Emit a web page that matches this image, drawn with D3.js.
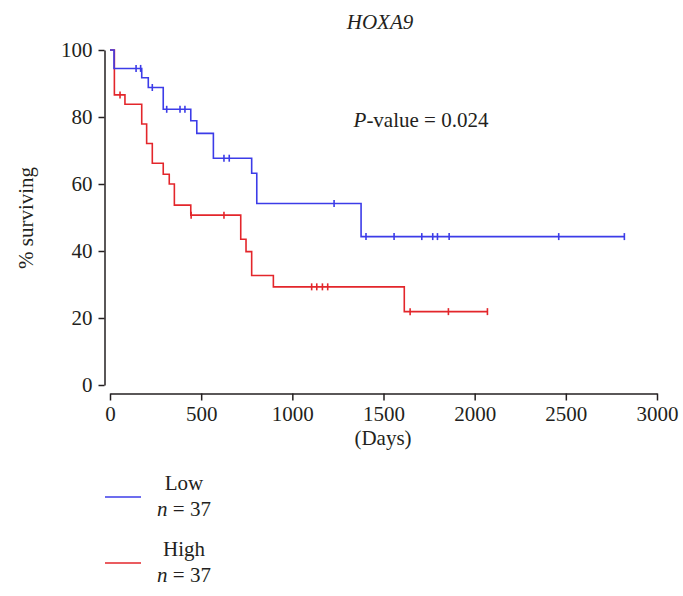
<!DOCTYPE html>
<html>
<head>
<meta charset="utf-8">
<script src="https://cdn.jsdelivr.net/npm/d3@7"></script>
<style>
  html, body { margin: 0; padding: 0; background: #fff; }
  svg { display: block; }
  text { font-family: "Liberation Serif", "DejaVu Serif", serif; fill: #231f20; }
</style>
</head>
<body>
<svg id="chart" width="683" height="596"></svg>
<script>
// ---- Data ----
const xTicks = [0, 500, 1000, 1500, 2000, 2500, 3000];
const yTicks = [0, 20, 40, 60, 80, 100];

const lowEventDays = [0, 22, 174, 210, 292, 443, 476, 567, 777, 805, 1377];
const lowSurvival  = [100, 94.5, 91.7, 88.8, 82.3, 78.9, 75.1, 67.7, 63.2, 54.2, 44.3];
const lowEndDay = 2821;
const lowCensorDays = [143, 168, 232, 311, 384, 411, 625, 654, 1229, 1404, 1558, 1710, 1770, 1796, 1860, 2461, 2821];

const highEventDays = [0, 24, 82, 174, 201, 232, 292, 325, 353, 443, 717, 746, 777, 896, 1614];
const highSurvival  = [100, 86.6, 83.8, 77.9, 72.1, 66.2, 62.9, 60.0, 53.7, 50.7, 43.5, 39.8, 32.7, 29.3, 21.9];
const highEndDay = 2070;
const highCensorDays = [55, 445, 625, 1106, 1134, 1165, 1194, 1646, 1856, 2070];

const groups = ["Low", "High"];
const groupN = [37, 37];
const colors = ["#3c3ce8", "#e3262b"];

// ---- Chart ----
const svg = d3.select("#chart");
const x = d3.scaleLinear().domain([0, 3000]).range([110, 657]);
const y = d3.scaleLinear().domain([0, 100]).range([385, 50]);

const axisColor = "#231f20";
const FS = 21;

// Y axis
const yAxisG = svg.append("g").attr("transform", "translate(104.5,0)")
  .call(d3.axisLeft(y).tickValues(yTicks).tickSize(6).tickSizeOuter(0).tickPadding(6));
// X axis
const xAxisG = svg.append("g").attr("transform", "translate(0,393.5)")
  .call(d3.axisBottom(x).tickValues(xTicks).tickSize(7).tickSizeOuter(0).tickPadding(6).tickFormat(d3.format("d")));
[yAxisG, xAxisG].forEach(g => {
  g.selectAll("path, line").attr("stroke", axisColor).attr("stroke-width", 1.5);
  g.selectAll("text").style("font-family", "Liberation Serif").style("font-size", FS + "px").attr("fill", axisColor);
});

// Axis titles
svg.append("text")
  .attr("transform", "translate(33,218) rotate(-90)")
  .attr("text-anchor", "middle")
  .style("font-size", FS + "px")
  .text("% surviving");
svg.append("text")
  .attr("x", 383).attr("y", 445)
  .attr("text-anchor", "middle")
  .style("font-size", FS + "px")
  .text("(Days)");

// Title
svg.append("text")
  .attr("x", 380).attr("y", 29)
  .attr("text-anchor", "middle")
  .style("font-size", FS + "px")
  .style("font-style", "italic")
  .text("HOXA9");

// P-value
const pt = svg.append("text")
  .attr("x", 421).attr("y", 127)
  .attr("text-anchor", "middle")
  .style("font-size", FS + "px");
pt.append("tspan").style("font-style", "italic").text("P");
pt.append("tspan").text("-value = 0.024");

// Curves
function stepPoints(days, surv, end) {
  const pts = days.map((d, i) => [d, surv[i]]);
  pts.push([end, surv[surv.length - 1]]);
  return pts;
}
function survAt(days, surv, t) {
  let v = surv[0];
  for (let i = 0; i < days.length; i++) if (days[i] <= t) v = surv[i];
  return v;
}
const line = d3.line().x(d => x(d[0])).y(d => y(d[1])).curve(d3.curveStepAfter);

const series = [
  { days: lowEventDays, surv: lowSurvival, end: lowEndDay, cens: lowCensorDays, color: colors[0] },
  { days: highEventDays, surv: highSurvival, end: highEndDay, cens: highCensorDays, color: colors[1] }
];

// draw High first, Low on top? draw in order low then high
series.slice().reverse().forEach(s => {
  svg.append("path")
    .datum(stepPoints(s.days, s.surv, s.end))
    .attr("d", line)
    .attr("fill", "none")
    .attr("stroke", s.color)
    .attr("stroke-width", 1.6);
  svg.append("g").selectAll("line")
    .data(s.cens)
    .join("line")
    .attr("x1", d => x(d)).attr("x2", d => x(d))
    .attr("y1", d => y(survAt(s.days, s.surv, d)) - 3.5)
    .attr("y2", d => y(survAt(s.days, s.surv, d)) + 3.5)
    .attr("stroke", s.color)
    .attr("stroke-width", 1.6);
});

// Legend
const legendY = [497, 563];
groups.forEach((g, i) => {
  const ly = legendY[i];
  svg.append("line")
    .attr("x1", 105).attr("x2", 141)
    .attr("y1", ly).attr("y2", ly)
    .attr("stroke", colors[i]).attr("stroke-width", 1.6);
  svg.append("text")
    .attr("x", 184).attr("y", ly - 7)
    .attr("text-anchor", "middle")
    .style("font-size", FS + "px")
    .text(g);
  const nt = svg.append("text")
    .attr("x", 184).attr("y", ly + 19)
    .attr("text-anchor", "middle")
    .style("font-size", FS + "px");
  nt.append("tspan").style("font-style", "italic").text("n");
  nt.append("tspan").text(" = " + groupN[i]);
});
</script>
</body>
</html>
